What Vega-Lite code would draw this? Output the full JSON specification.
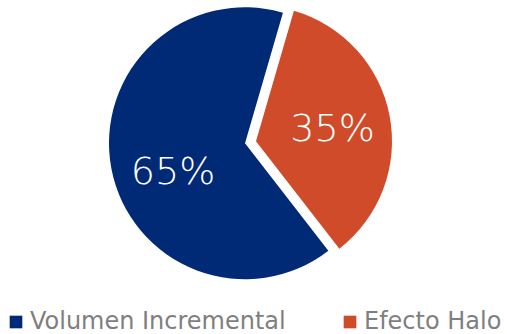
{
  "$schema": "https://vega.github.io/schema/vega-lite/v6.json",
  "width": 490,
  "height": 286.6,
  "padding": 0,
  "autosize": {"type": "pad"},
  "background": "white",
  "config": {"view": {"stroke": null}},
  "data": {"values": [
    {"category": "Volumen Incremental", "value": 65, "label": "65%"},
    {"category": "Efecto Halo", "value": 35, "label": "35%"}
  ]},
  "encoding": {
    "theta": {"field": "value", "type": "quantitative", "stack": true, "scale": {"range": [0.2827, 6.5659]}},
    "order": {"field": "value", "type": "quantitative", "sort": "ascending"}
  },
  "layer": [
    {
      "mark": {
        "type": "arc",
        "outerRadius": 136,
        "xOffset": {"expr": "datum.category === 'Efecto Halo' ? 11 : 0"},
        "yOffset": {"expr": "datum.category === 'Efecto Halo' ? -2 : 0"}
      },
      "encoding": {
        "color": {
          "field": "category",
          "type": "nominal",
          "scale": {"domain": ["Volumen Incremental", "Efecto Halo"], "range": ["#002A75", "#D04B2A"]},
          "legend": {
            "orient": "none",
            "legendX": 4,
            "legendY": 310,
            "direction": "horizontal",
            "title": null,
            "symbolType": "square",
            "symbolSize": 160,
            "symbolStrokeWidth": 0,
            "labelFont": "DejaVu Sans",
            "labelFontSize": 24,
            "labelColor": "#7f7f7f",
            "labelOffset": 2,
            "columnPadding": 52,
            "padding": 0,
            "labelLimit": 0
          }
        }
      }
    },
    {
      "mark": {
        "type": "text",
        "radius": 80,
        "font": "DejaVu Sans",
        "fontWeight": 200,
        "fontSize": 38,
        "baseline": "middle",
        "align": "center",
        "dx": {"expr": "datum.category === 'Efecto Halo' ? 9 : 6.6"},
        "dy": {"expr": "datum.category === 'Efecto Halo' ? 1.5 : 14.5"}
      },
      "encoding": {
        "text": {"field": "label", "type": "nominal"},
        "color": {"value": "white"}
      }
    }
  ]
}
